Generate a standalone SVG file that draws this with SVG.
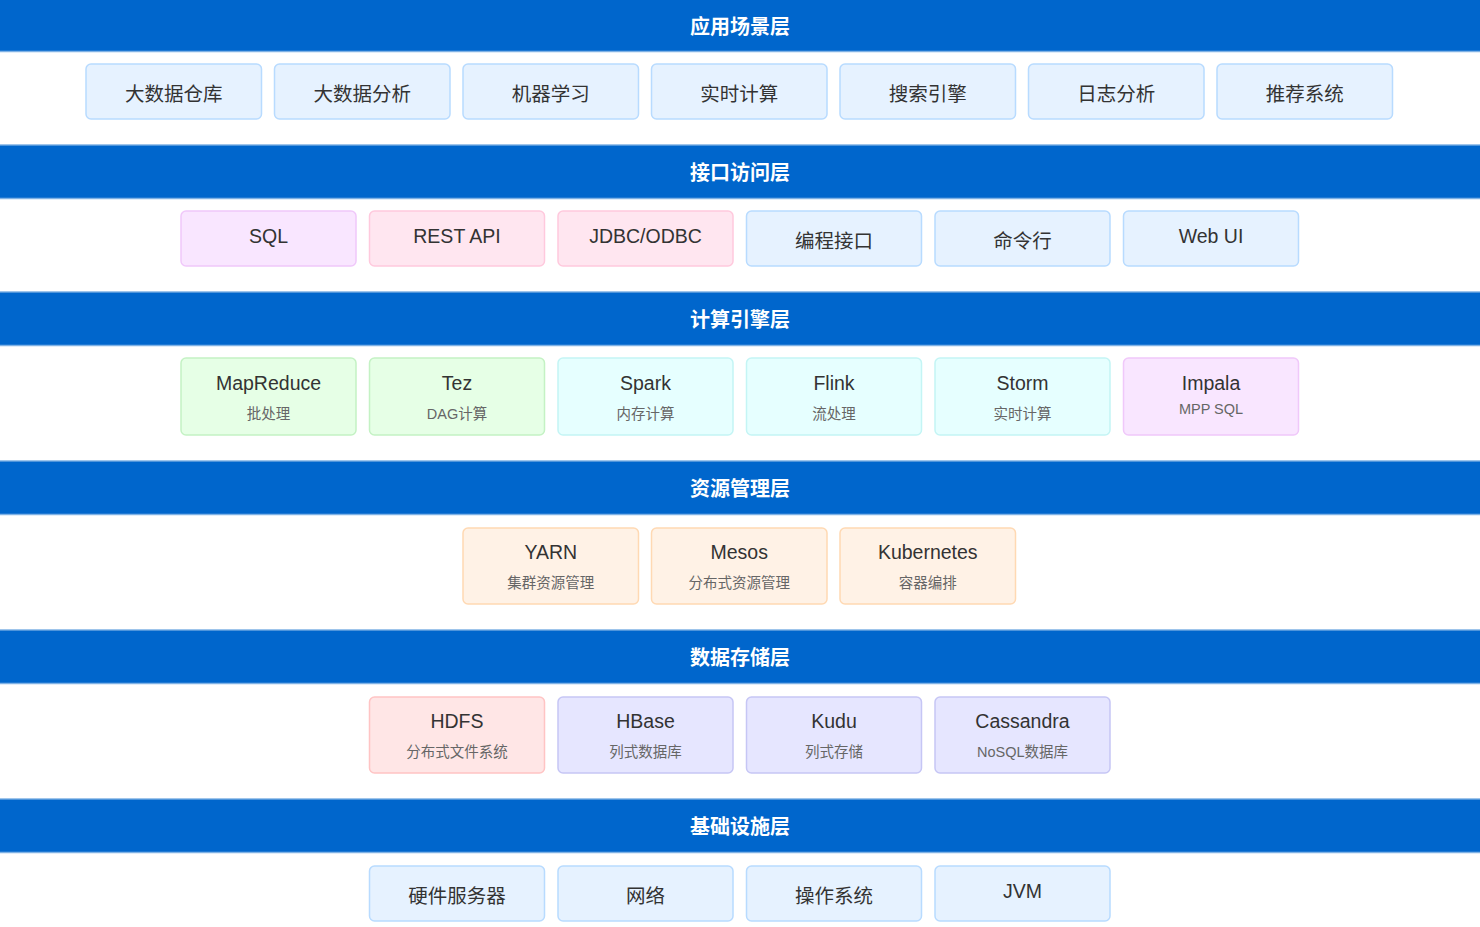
<svg xmlns="http://www.w3.org/2000/svg" width="1480" height="927" viewBox="0 0 1480 927">
<style>
.band{fill:#0066cc}
.bline{stroke:#7fb2e5;stroke-width:1.5}
.ht{font-family:"Noto Sans CJK SC","Liberation Sans",sans-serif;font-size:20px;font-weight:bold;fill:#ffffff;text-anchor:middle}
.t{font-family:"Liberation Sans","Noto Sans CJK SC",sans-serif;font-size:19.5px;fill:#333333;text-anchor:middle}
.s{font-family:"Liberation Sans","Noto Sans CJK SC",sans-serif;font-size:14.5px;fill:#666666;text-anchor:middle}
rect.n{stroke-width:1.5}
.blue{fill:#e6f2ff;stroke:#b8dbff}
.mag{fill:#f9e6ff;stroke:#f0c8fa}
.pink{fill:#ffe6f0;stroke:#ffc9dd}
.green{fill:#e6ffe6;stroke:#c4f2c4}
.cyan{fill:#e6ffff;stroke:#c4f5f5}
.orange{fill:#fff2e6;stroke:#ffd9b3}
.red{fill:#ffe6e6;stroke:#ffc4c4}
.violet{fill:#e6e6ff;stroke:#c6c6f5}
</style>
<rect width="1480" height="927" fill="#ffffff"/>
<g id="bands">
<rect class="band" x="0" y="0" width="1480" height="51"/>
<line class="bline" x1="0" y1="51.5" x2="1480" y2="51.5"/>
<text class="ht" x="740" y="34">应用场景层</text>
<line class="bline" x1="0" y1="145" x2="1480" y2="145"/>
<rect class="band" x="0" y="145.5" width="1480" height="52.5"/>
<line class="bline" x1="0" y1="198.5" x2="1480" y2="198.5"/>
<text class="ht" x="740" y="180">接口访问层</text>
<line class="bline" x1="0" y1="292" x2="1480" y2="292"/>
<rect class="band" x="0" y="292.5" width="1480" height="52.5"/>
<line class="bline" x1="0" y1="345.5" x2="1480" y2="345.5"/>
<text class="ht" x="740" y="327">计算引擎层</text>
<line class="bline" x1="0" y1="461" x2="1480" y2="461"/>
<rect class="band" x="0" y="461.5" width="1480" height="52.5"/>
<line class="bline" x1="0" y1="514.5" x2="1480" y2="514.5"/>
<text class="ht" x="740" y="496">资源管理层</text>
<line class="bline" x1="0" y1="630" x2="1480" y2="630"/>
<rect class="band" x="0" y="630.5" width="1480" height="52.5"/>
<line class="bline" x1="0" y1="683.5" x2="1480" y2="683.5"/>
<text class="ht" x="740" y="665">数据存储层</text>
<line class="bline" x1="0" y1="799" x2="1480" y2="799"/>
<rect class="band" x="0" y="799.5" width="1480" height="52.5"/>
<line class="bline" x1="0" y1="852.5" x2="1480" y2="852.5"/>
<text class="ht" x="740" y="834">基础设施层</text>
</g>
<g id="connectors"></g>
<g id="app">
<g id="n-dw"><rect class="n blue" x="86" y="64" width="175.5" height="55" rx="5"/><text class="t" x="173.75" y="101">大数据仓库</text></g>
<g id="n-da"><rect class="n blue" x="274.5" y="64" width="175.5" height="55" rx="5"/><text class="t" x="362.25" y="101">大数据分析</text></g>
<g id="n-ml"><rect class="n blue" x="463" y="64" width="175.5" height="55" rx="5"/><text class="t" x="550.75" y="101">机器学习</text></g>
<g id="n-rt"><rect class="n blue" x="651.5" y="64" width="175.5" height="55" rx="5"/><text class="t" x="739.25" y="101">实时计算</text></g>
<g id="n-se"><rect class="n blue" x="840" y="64" width="175.5" height="55" rx="5"/><text class="t" x="927.75" y="101">搜索引擎</text></g>
<g id="n-log"><rect class="n blue" x="1028.5" y="64" width="175.5" height="55" rx="5"/><text class="t" x="1116.25" y="101">日志分析</text></g>
<g id="n-rec"><rect class="n blue" x="1217" y="64" width="175.5" height="55" rx="5"/><text class="t" x="1304.75" y="101">推荐系统</text></g>
</g>
<g id="iface">
<g id="n-sql"><rect class="n mag" x="181" y="211" width="175" height="55" rx="5"/><text class="t" x="268.5" y="243">SQL</text></g>
<g id="n-rest"><rect class="n pink" x="369.5" y="211" width="175" height="55" rx="5"/><text class="t" x="457" y="243">REST API</text></g>
<g id="n-jdbc"><rect class="n pink" x="558" y="211" width="175" height="55" rx="5"/><text class="t" x="645.5" y="243">JDBC/ODBC</text></g>
<g id="n-prog"><rect class="n blue" x="746.5" y="211" width="175" height="55" rx="5"/><text class="t" x="834" y="248">编程接口</text></g>
<g id="n-cli"><rect class="n blue" x="935" y="211" width="175" height="55" rx="5"/><text class="t" x="1022.5" y="248">命令行</text></g>
<g id="n-web"><rect class="n blue" x="1123.5" y="211" width="175" height="55" rx="5"/><text class="t" x="1211" y="243">Web UI</text></g>
</g>
<g id="compute">
<g id="n-mr"><rect class="n green" x="181" y="358" width="175" height="77" rx="5"/><text class="t" x="268.5" y="390">MapReduce</text><text class="s" x="268.5" y="419">批处理</text></g>
<g id="n-tez"><rect class="n green" x="369.5" y="358" width="175" height="77" rx="5"/><text class="t" x="457" y="390">Tez</text><text class="s" x="457" y="419">DAG计算</text></g>
<g id="n-spark"><rect class="n cyan" x="558" y="358" width="175" height="77" rx="5"/><text class="t" x="645.5" y="390">Spark</text><text class="s" x="645.5" y="419">内存计算</text></g>
<g id="n-flink"><rect class="n cyan" x="746.5" y="358" width="175" height="77" rx="5"/><text class="t" x="834" y="390">Flink</text><text class="s" x="834" y="419">流处理</text></g>
<g id="n-storm"><rect class="n cyan" x="935" y="358" width="175" height="77" rx="5"/><text class="t" x="1022.5" y="390">Storm</text><text class="s" x="1022.5" y="419">实时计算</text></g>
<g id="n-impala"><rect class="n mag" x="1123.5" y="358" width="175" height="77" rx="5"/><text class="t" x="1211" y="390">Impala</text><text class="s" x="1211" y="414">MPP SQL</text></g>
</g>
<g id="resource">
<g id="n-yarn"><rect class="n orange" x="463" y="528" width="175.5" height="76" rx="5"/><text class="t" x="550.75" y="559">YARN</text><text class="s" x="550.75" y="588">集群资源管理</text></g>
<g id="n-mesos"><rect class="n orange" x="651.5" y="528" width="175.5" height="76" rx="5"/><text class="t" x="739.25" y="559">Mesos</text><text class="s" x="739.25" y="588">分布式资源管理</text></g>
<g id="n-k8s"><rect class="n orange" x="840" y="528" width="175.5" height="76" rx="5"/><text class="t" x="927.75" y="559">Kubernetes</text><text class="s" x="927.75" y="588">容器编排</text></g>
</g>
<g id="storage">
<g id="n-hdfs"><rect class="n red" x="369.5" y="697" width="175" height="76" rx="5"/><text class="t" x="457" y="728">HDFS</text><text class="s" x="457" y="757">分布式文件系统</text></g>
<g id="n-hbase"><rect class="n violet" x="558" y="697" width="175" height="76" rx="5"/><text class="t" x="645.5" y="728">HBase</text><text class="s" x="645.5" y="757">列式数据库</text></g>
<g id="n-kudu"><rect class="n violet" x="746.5" y="697" width="175" height="76" rx="5"/><text class="t" x="834" y="728">Kudu</text><text class="s" x="834" y="757">列式存储</text></g>
<g id="n-cass"><rect class="n violet" x="935" y="697" width="175" height="76" rx="5"/><text class="t" x="1022.5" y="728">Cassandra</text><text class="s" x="1022.5" y="757">NoSQL数据库</text></g>
</g>
<g id="infra">
<g id="n-hw"><rect class="n blue" x="369.5" y="866" width="175" height="55" rx="5"/><text class="t" x="457" y="903">硬件服务器</text></g>
<g id="n-net"><rect class="n blue" x="558" y="866" width="175" height="55" rx="5"/><text class="t" x="645.5" y="903">网络</text></g>
<g id="n-os"><rect class="n blue" x="746.5" y="866" width="175" height="55" rx="5"/><text class="t" x="834" y="903">操作系统</text></g>
<g id="n-jvm"><rect class="n blue" x="935" y="866" width="175" height="55" rx="5"/><text class="t" x="1022.5" y="898">JVM</text></g>
</g>
</svg>
